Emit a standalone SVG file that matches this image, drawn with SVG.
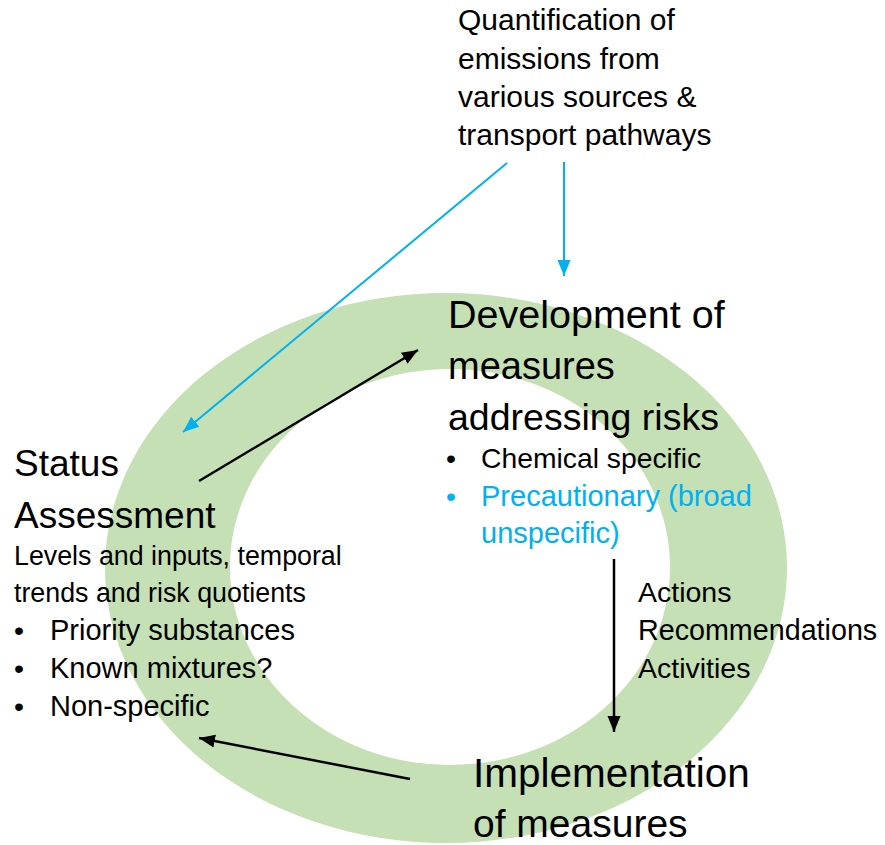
<svg xmlns="http://www.w3.org/2000/svg" width="885" height="845" viewBox="0 0 885 845">
<style>
text{font-family:"Liberation Sans",Arial,sans-serif;fill:#000}
.h{font-size:38px}
.b{font-size:28.5px}
.t{font-size:30px}
.blue{fill:#00B0F0}
.cb{stroke:#000;stroke-width:2.5;fill:none}
.cbl{stroke:#00B0F0;stroke-width:2;fill:none}
</style>
<defs>
<marker id="ab" markerUnits="userSpaceOnUse" markerWidth="18" markerHeight="18" viewBox="0 0 18 18" refX="16" refY="9" orient="auto">
<path d="M0,2.5 L16,9 L0,15.5 Z" fill="#000"/>
</marker>
<marker id="abl" markerUnits="userSpaceOnUse" markerWidth="18" markerHeight="18" viewBox="0 0 18 18" refX="16" refY="9" orient="auto">
<path d="M0,2.5 L16,9 L0,15.5 Z" fill="#00B0F0"/>
</marker>
</defs>
<g id="ring">
<path fill="#C5E0B4" fill-rule="evenodd" d="M105,568 A341,275 0 1 0 787,568 A341,275 0 1 0 105,568 Z M230,567 A220,198 0 1 1 670,567 A220,198 0 1 1 230,567 Z"/>
</g>
<g id="connectors">
<line class="cbl" x1="507" y1="163" x2="183" y2="432" marker-end="url(#abl)"/>
<line class="cbl" x1="564" y1="162" x2="564" y2="276" marker-end="url(#abl)"/>
<line class="cb" x1="199" y1="481" x2="418" y2="350" marker-end="url(#ab)"/>
<line class="cb" x1="614" y1="559" x2="614" y2="732" marker-end="url(#ab)"/>
<line class="cb" x1="410" y1="779" x2="199" y2="738" marker-end="url(#ab)"/>
</g>
<g id="emissions">
<text class="t" x="458" y="30">Quantification of</text>
<text class="t" x="458" y="69">emissions from</text>
<text class="t" x="458" y="107">various sources &amp;</text>
<text class="t" x="458" y="145">transport pathways</text>
</g>
<g id="development">
<text class="h" x="448" y="328" style="font-size:39.5px">Development of</text>
<text class="h" x="448" y="379">measures</text>
<text class="h" x="448" y="430" style="font-size:37.5px">addressing risks</text>
<text class="b" x="446" y="468">•</text>
<text class="b" x="481" y="468" style="font-size:28.3px">Chemical specific</text>
<text class="b blue" x="446" y="506">•</text>
<text class="b blue" x="481" y="506" style="font-size:29px">Precautionary (broad</text>
<text class="b blue" x="481" y="543" style="font-size:29px">unspecific)</text>
</g>
<g id="status">
<text class="h" x="14" y="476" style="font-size:37px">Status</text>
<text class="h" x="14" y="528" style="font-size:37px">Assessment</text>
<text class="b" x="14" y="565" style="font-size:26.8px">Levels and inputs, temporal</text>
<text class="b" x="14" y="602" style="font-size:26.8px">trends and risk quotients</text>
<text class="b" x="14" y="640">•</text>
<text class="b" x="50" y="640" style="font-size:29px">Priority substances</text>
<text class="b" x="14" y="678">•</text>
<text class="b" x="50" y="678" style="font-size:29px">Known mixtures?</text>
<text class="b" x="14" y="716">•</text>
<text class="b" x="50" y="716" style="font-size:29px">Non-specific</text>
</g>
<g id="actions">
<text class="b" x="638" y="602">Actions</text>
<text class="b" x="638" y="640" style="font-size:28.7px">Recommendations</text>
<text class="b" x="638" y="678">Activities</text>
</g>
<g id="implementation">
<text class="h" x="473" y="787" style="font-size:40.5px">Implementation</text>
<text class="h" x="473" y="837" style="font-size:39px">of measures</text>
</g>
</svg>
